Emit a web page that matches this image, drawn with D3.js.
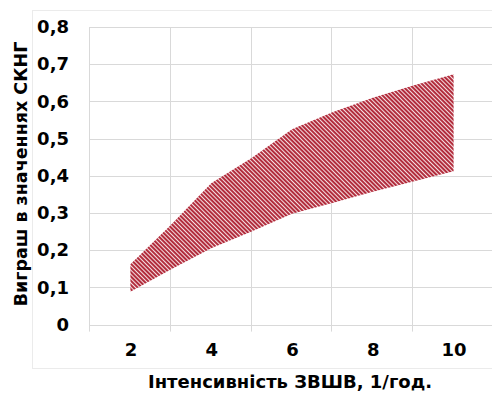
<!DOCTYPE html>
<html>
<head>
<meta charset="utf-8">
<script src="https://cdn.jsdelivr.net/npm/d3@7"></script>
<style>
  body { margin: 0; background: #fff; }
  svg text { font-family: "DejaVu Sans", sans-serif; font-weight: bold; fill: #000; }
</style>
</head>
<body>
<svg id="chart" width="492" height="393"></svg>
<script>
// інтенсивність ЗВШВ, 1/год.
const xValues = [2, 3, 4, 5, 6, 7, 8, 9, 10];
// межі виграшу в значеннях СКНГ
const lowerValues = [0.088, 0.148, 0.205, 0.250, 0.298, 0.327, 0.357, 0.385, 0.412];
const upperValues = [0.162, 0.268, 0.380, 0.448, 0.525, 0.571, 0.610, 0.643, 0.673];
const xTickLabels = [2, 4, 6, 8, 10];
const xGridLines = [1, 3, 5, 7, 9, 11];
const yTicks = [0, 0.1, 0.2, 0.3, 0.4, 0.5, 0.6, 0.7, 0.8];

const svg = d3.select("#chart");

const x = d3.scaleLinear().domain([1, 11]).range([90, 494]);
const y = d3.scaleLinear().domain([0, 0.8]).range([324.6, 27]);

// рамка області діаграми
svg.append("rect")
    .attr("x", 32.5).attr("y", 10.5)
    .attr("width", 470).attr("height", 358)
    .attr("fill", "none")
    .attr("stroke", "#ebebeb");

// штрихування
const defs = svg.append("defs");
const pat = defs.append("pattern")
    .attr("id", "hatch")
    .attr("patternUnits", "userSpaceOnUse")
    .attr("width", 3).attr("height", 3)
    .attr("patternTransform", "rotate(-45)");
pat.append("rect").attr("width", 3).attr("height", 3).attr("fill", "#b22d3d");
pat.append("rect").attr("width", 1).attr("height", 3).attr("fill", "#f6e0e3");

// сітка
svg.append("g")
    .selectAll("line")
    .data(yTicks)
    .enter()
    .append("line")
    .attr("x1", x(1)).attr("x2", x(11))
    .attr("y1", d => Math.round(y(d)) + 0.5)
    .attr("y2", d => Math.round(y(d)) + 0.5)
    .attr("stroke", "#d9d9d9");

svg.append("g")
    .selectAll("line")
    .data(xGridLines)
    .enter()
    .append("line")
    .attr("x1", d => Math.round(x(d)) - 0.5)
    .attr("x2", d => Math.round(x(d)) - 0.5)
    .attr("y1", y(0.8)).attr("y2", y(0) + 7)
    .attr("stroke", "#d9d9d9");

// смуга між межами
const data = xValues.map((v, i) => ({ x: v, lo: lowerValues[i], hi: upperValues[i] }));
const area = d3.area()
    .x(d => x(d.x))
    .y0(d => y(d.lo))
    .y1(d => y(d.hi));

svg.append("path")
    .datum(data)
    .attr("d", area)
    .attr("fill", "url(#hatch)");

// осі
const yAxis = d3.axisLeft(y)
    .tickValues(yTicks)
    .tickSize(0)
    .tickPadding(0)
    .tickFormat(d => d === 0 ? "0" : d3.format(".1f")(d).replace(".", ","));

svg.append("g")
    .attr("transform", "translate(69,0)")
    .call(yAxis)
    .call(g => g.select(".domain").remove())
    .call(g => g.selectAll("text")
        .attr("font-size", 18)
        .attr("font-family", "DejaVu Sans")
        .attr("font-weight", "bold"));

const xAxis = d3.axisBottom(x)
    .tickValues(xTickLabels)
    .tickSize(0)
    .tickPadding(0)
    .tickFormat(d3.format("d"));

svg.append("g")
    .attr("transform", "translate(0,343)")
    .call(xAxis)
    .call(g => g.select(".domain").remove())
    .call(g => g.selectAll("text")
        .attr("font-size", 18)
        .attr("font-family", "DejaVu Sans")
        .attr("font-weight", "bold"));

// підписи осей
svg.append("text")
    .attr("x", 290).attr("y", 388)
    .attr("text-anchor", "middle")
    .attr("font-size", 18)
    .text("Інтенсивність ЗВШВ, 1/год.");

svg.append("text")
    .attr("transform", "translate(27,174) rotate(-90)")
    .attr("text-anchor", "middle")
    .attr("font-size", 17.5)
    .text("Виграш в значеннях СКНГ");
</script>
</body>
</html>
